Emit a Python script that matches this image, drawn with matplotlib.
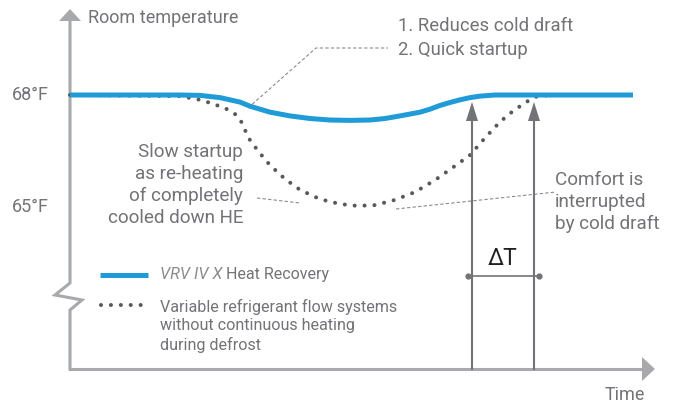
import matplotlib.pyplot as plt
from matplotlib.patches import Polygon
from matplotlib import font_manager

# chart values: time in arbitrary units (0 = origin), room temperature in °F
blue_time = [0, 110, 130, 150, 170, 180, 190, 200, 210, 220, 240, 260, 280, 300, 315,
             330, 340, 350, 360, 370, 380, 390, 400, 410, 425, 563]
blue_temp = [68.0, 68.0, 67.99, 67.93, 67.81, 67.70, 67.62, 67.54, 67.49, 67.44, 67.37,
             67.33, 67.32, 67.33, 67.37, 67.44, 67.49, 67.54, 67.62, 67.72, 67.80, 67.87,
             67.93, 67.97, 68.0, 68.0]

dot_time = [0, 110, 127, 140, 155, 165, 171, 175, 180, 189, 200, 215, 230, 250, 270, 287,
            305, 325, 345, 365, 385, 400, 415, 430, 443, 455, 465, 480, 563]
dot_temp = [68.0, 67.97, 67.89, 67.79, 67.65, 67.49, 67.30, 67.06, 66.79, 66.47, 66.12, 65.75,
            65.46, 65.21, 65.08, 65.03, 65.05, 65.19, 65.40, 65.72, 66.10, 66.39, 66.85, 67.28,
            67.57, 67.79, 67.95, 68.0, 68.0]

tick_temps = [68, 65]
tick_labels = ["68°F", "65°F"]
delta_times = [402, 464]  # the two vertical arrows (ΔT)

PX_PER_DEG = 37.33
def ty(ypx):
    # pixel row -> temperature, used only for placing annotations
    return 68 - (ypx - 95) / PX_PER_DEG

names = {f.name for f in font_manager.fontManager.ttflist}
FONT = "Roboto" if "Roboto" in names else "DejaVu Sans"
plt.rcParams["font.family"] = [FONT, "DejaVu Sans"]

GREY = "#727376"
AXGREY = "#a7a9ac"
BLUE = "#1f9bd7"
DOT = "#58595b"

fig = plt.figure(figsize=(6.83, 4.08), dpi=100)
ax = fig.add_axes([0, 0, 1, 1])
ax.set_xlim(-70, 613)
ax.set_ylim(ty(408), ty(0))
ax.axis("off")

# axes with break
x0 = 0
ax.plot([x0, x0, x0 - 15, x0 + 12, x0, x0],
        [ty(21), ty(283), ty(295), ty(300), ty(310), ty(369)], color=AXGREY, lw=2.2,
        solid_joinstyle="miter", zorder=2)
ax.plot([x0, 573], [ty(369), ty(369)], color=AXGREY, lw=2.2, zorder=2)
ax.add_patch(Polygon([[x0 - 11, ty(21)], [x0 + 11, ty(21)], [x0, ty(9)]], closed=True,
                     color=AXGREY, lw=0, zorder=2))
ax.add_patch(Polygon([[572, ty(357)], [572, ty(381)], [585, ty(369)]], closed=True,
                     color=AXGREY, lw=0, zorder=2))

# curves
ax.plot(dot_time, dot_temp, color=DOT, lw=2.9, linestyle=(0, (0.01, 2.45)),
        dash_capstyle="round", zorder=3)
ax.plot(blue_time, blue_temp, color=BLUE, lw=3.6, solid_capstyle="butt",
        solid_joinstyle="round", zorder=4)

# vertical arrows and ΔT
for t in delta_times:
    ax.plot([t, t], [ty(369), ty(118)], color=GREY, lw=1.5, zorder=3)
    ax.add_patch(Polygon([[t - 6, ty(121)], [t + 6, ty(121)], [t, ty(102)]], closed=True,
                         color=GREY, lw=0, zorder=3))
ax.plot([delta_times[0] - 4, delta_times[1] + 5], [ty(276), ty(276)], color=GREY, lw=1.2,
        marker="o", ms=3.5, markevery=[0, 1], zorder=3)
ax.text(sum(delta_times) / 2, ty(259), "ΔT", color="#231f20", fontsize=16.5,
        ha="center", va="center")

# leader lines
dash = dict(color="#8a8b8d", lw=0.8, linestyle=(0, (3, 2)), zorder=2)
ax.plot([178, 246, 318], [ty(108), ty(48), ty(48)], **dash)
ax.plot([187, 230], [ty(198), ty(203)], **dash)
ax.plot([326, 486], [ty(209), ty(192)], **dash)

# labels
ax.text(18, ty(18), "Room temperature", color=GREY, fontsize=13, va="center", ha="left")
for temp, lab in zip(tick_temps, tick_labels):
    ax.text(-58, temp, lab, color=GREY, fontsize=13, va="center", ha="left")
ax.text(328, ty(26), "1. Reduces cold draft", color=GREY, fontsize=13.3, va="center")
ax.text(328, ty(50), "2. Quick startup", color=GREY, fontsize=13.3, va="center")
ax.text(173, ty(185), "Slow startup\nas re-heating\nof completely\ncooled down HE",
        color=GREY, fontsize=13.6, ha="right", va="center", linespacing=1.3)
ax.text(485, ty(202), "Comfort is\ninterrupted\nby cold draft",
        color=GREY, fontsize=13.6, ha="left", va="center", linespacing=1.3)
ax.text(555, ty(395), "Time", color=GREY, fontsize=13, ha="center", va="center")

# legend
ax.plot([30, 78], [ty(275), ty(275)], color=BLUE, lw=3.6, solid_capstyle="butt")
ax.plot([31, 78], [ty(305), ty(305)], color=DOT, lw=2.9,
        linestyle=(0, (0.01, 2.45)), dash_capstyle="round")
t1 = ax.text(90, ty(275), "VRV IV X", color="#8a8b8d", fontsize=11.8, style="italic",
             va="center")
fig.canvas.draw()
bb = t1.get_window_extent()
x_next = ax.transData.inverted().transform((bb.x1 + 4, 0))[0]
ax.text(x_next, ty(275), "Heat Recovery", color=GREY, fontsize=11.5, va="center")
ax.text(90, ty(326), "Variable refrigerant flow systems\nwithout continuous heating\nduring defrost",
        color=GREY, fontsize=11.6, va="center", linespacing=1.25)

fig.savefig("out.png", dpi=100, facecolor="white")
